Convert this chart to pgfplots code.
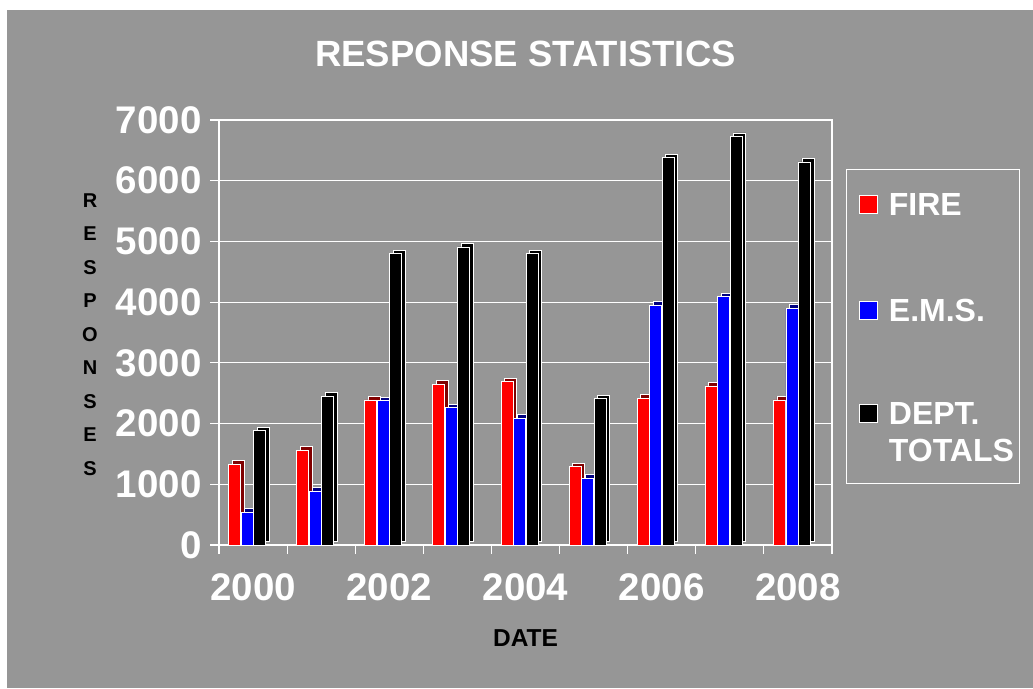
\documentclass[border=0pt]{standalone}
\usepackage{fontspec}
\setmainfont{Liberation Sans}
\usepackage{pgfplots}
\pgfplotsset{compat=1.18}
\usepackage{pgfplotstable}

\definecolor{bg}{RGB}{150,150,150}
\definecolor{firetop}{RGB}{128,0,0}
\definecolor{emstop}{RGB}{0,0,128}

% responses per year (0 = 2000 ... 8 = 2008)
\pgfplotstableread{
x fire ems total
0 1330 540 1880
1 1560 890 2450
2 2390 2380 4800
3 2650 2260 4910
4 2690 2090 4800
5 1290 1100 2410
6 2420 3950 6380
7 2620 4090 6730
8 2390 3900 6310
}\data

\begin{document}
\begin{tikzpicture}
\useasboundingbox (0,0) rectangle (1033pt,-688pt);
\fill[white] (0,0) rectangle (1033pt,-688pt);
\fill[bg] (7pt,-10pt) rectangle (1033pt,-688pt);
\begin{axis}[
  at={(219pt,-545pt)}, anchor=south west,
  scale only axis, width=613pt, height=425pt,
  xmin=-0.5, xmax=8.5, ymin=0, ymax=7000,
  ytick={0,1000,...,7000},
  scaled y ticks=false,
  ybar, bar width=12pt,
  axis line style={white, line width=1.2pt},
  ymajorgrids, grid style={white, line width=1.2pt},
  tick style={white, line width=1.2pt},
  tick align=outside, major tick length=9pt,
  tick pos=left,
  xtick={-0.5,0.5,...,8.5}, xticklabels={},
  extra x ticks={0,2,4,6,8},
  extra x tick labels={2000,2002,2004,2006,2008},
  extra x tick style={grid=none, major tick length=0pt},
  tick label style={font=\fontsize{38.5}{40}\selectfont\bfseries, text=white},
  xticklabel style={yshift=-25pt},
  yticklabel style={xshift=-5pt},
  /pgf/number format/assume math mode=true,
  /pgf/number format/1000 sep={},
  title={RESPONSE STATISTICS},
  title style={at={(0.5,1)}, anchor=base, yshift=48pt,
    font=\fontsize{36.5}{40}\selectfont\bfseries, text=white},
  xlabel={DATE},
  xlabel style={at={(0.5,0)}, anchor=base, yshift=-101pt,
    font=\fontsize{24.5}{28}\selectfont\bfseries, text=black},
  ylabel={R\\E\\S\\P\\O\\N\\S\\E\\S},
  ylabel style={at={(0,0.5)}, anchor=center, rotate=-90, xshift=-129pt, yshift=-2pt,
    align=center, font=\fontsize{20}{33.5}\selectfont\bfseries, text=black},
  legend image code/.code={\path (0pt,0pt); \draw[#1, draw=white, line width=0.8pt] (8pt,2pt) rectangle (26pt,20pt);},
  legend style={draw=white, line width=1pt, fill=none,
    at={(1,0.885)}, xshift=14pt, anchor=north west,
    font=\fontsize{32}{37}\selectfont\bfseries, text=white,
    row sep=73pt, column sep=9.6pt, inner xsep=4pt, inner ysep=9pt,
    nodes={text depth=},
    cells={anchor=base west}},
]
% depth faces
\addplot[fill=firetop, draw=white, line width=0.8pt, bar shift=-18.5pt, xshift=3.5pt, yshift=3.5pt, forget plot] table[x=x,y=fire]{\data};
\addplot[fill=emstop, draw=white, line width=0.8pt, bar shift=-6pt, xshift=3.5pt, yshift=3.5pt, forget plot] table[x=x,y=ems]{\data};
\addplot[fill=black, draw=white, line width=0.8pt, bar shift=6.5pt, xshift=3.5pt, yshift=3.5pt, forget plot] table[x=x,y=total]{\data};
% front faces
\addplot[fill=red, draw=white, line width=0.8pt, bar shift=-18.5pt] table[x=x,y=fire]{\data};
\addplot[fill=blue, draw=white, line width=0.8pt, bar shift=-6pt] table[x=x,y=ems]{\data};
\addplot[fill=black, draw=white, line width=0.8pt, bar shift=6.5pt] table[x=x,y=total]{\data};
\legend{\rule{0pt}{35pt}FIRE, \rule{0pt}{29pt}E.M.S., {\begin{tabular}[t]{@{}l@{}}DEPT.\\TOTALS\end{tabular}}}
\end{axis}
\end{tikzpicture}
\end{document}
